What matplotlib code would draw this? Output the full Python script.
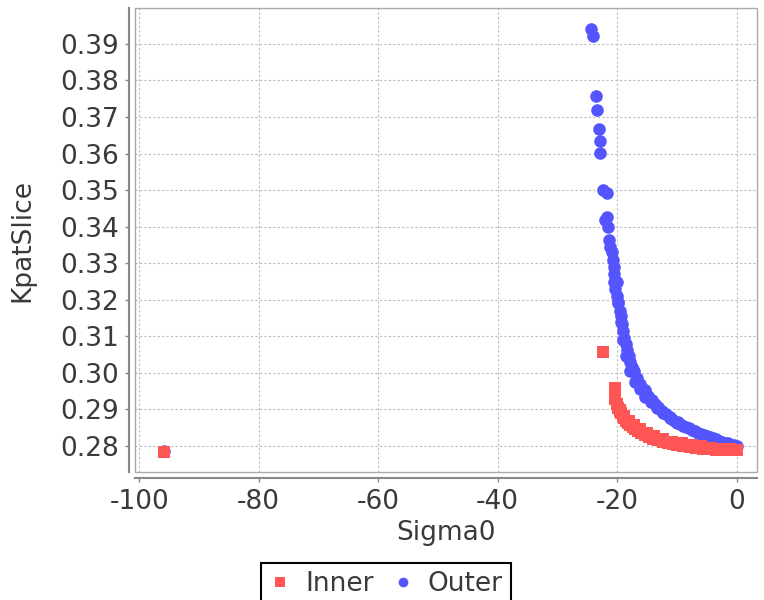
import matplotlib
matplotlib.use("Agg")
import matplotlib.pyplot as plt
from matplotlib.patches import Rectangle
from matplotlib.lines import Line2D

plt.rcParams['font.family'] = ['DejaVu Sans']

# ---- data ----
inner_x = [-95.9, -22.4, -20.4, -20.3, -20.3, -20.1, -19.8, -19.5, -19.3, -19.0,
           -18.8, -18.5, -18.2, -17.8, -17.4, -17.0, -16.5, -16.0, -15.3, -14.7,
           -14.0, -13.2, -12.3, -11.5, -10.6, -10.0, -9.5, -9.0, -8.4, -7.8,
           -7.3, -6.8, -6.2, -5.6, -5.1, -4.5, -4.0, -3.4, -2.9, -2.3,
           -1.7, -1.2, -0.6, 0.0,
           -19.5, -18.9, -18.1, -17.2, -16.2, -15.0, -13.8, -12.3, -10.8, -9.2,
           -7.6, -6.0, -4.4, -2.8, -1.2]
inner_y = [0.2785, 0.3056, 0.2958, 0.2945, 0.2930, 0.2915, 0.2904, 0.2896, 0.2889, 0.2882,
           0.2876, 0.2869, 0.2863, 0.2857, 0.2851, 0.2846, 0.2840, 0.2835, 0.2829, 0.2824,
           0.2820, 0.2816, 0.2812, 0.2808, 0.2805, 0.2803, 0.2802, 0.2800, 0.2799, 0.2798,
           0.2797, 0.2795, 0.2794, 0.2793, 0.2792, 0.2792, 0.2791, 0.2790, 0.2790, 0.2789,
           0.2789, 0.2789, 0.2789, 0.2788,
           0.2899, 0.2883, 0.2869, 0.2857, 0.2846, 0.2836, 0.2827, 0.2819, 0.2812, 0.2807,
           0.2803, 0.2799, 0.2796, 0.2793, 0.2791]

outer_x = [-95.9, -24.3, -24.0, -23.6, -23.3, -23.1, -22.8, -22.8, -22.3, -21.7,
           -22.1, -21.7, -21.5, -21.3, -21.2, -20.9, -20.7, -20.6, -20.5, -20.5,
           -20.3, -20.1, -19.9, -19.6, -19.4, -19.2, -19.0, -18.8, -18.6, -18.4,
           -18.1, -17.9, -17.6, -17.2, -16.7, -16.2, -15.8, -15.4, -14.8, -14.2,
           -13.6, -13.1, -12.5, -11.9, -11.2, -10.6, -10.0, -9.5, -9.0, -8.4,
           -7.9, -7.5, -7.0, -6.5, -6.0, -5.5, -5.0, -4.5, -4.0, -3.5,
           -3.0, -2.5, -2.0, -1.5, -1.0, -0.5, 0.0,
           -20.1, -19.8, -19.4, -19.0, -18.5, -17.9, -17.0, -16.2, -15.3, -14.4,
           -13.4, -12.3, -11.1, -9.9]
outer_y = [0.2787, 0.3940, 0.3922, 0.3758, 0.3719, 0.3666, 0.3635, 0.3601, 0.3500, 0.3493,
           0.3418, 0.3427, 0.3400, 0.3364, 0.3345, 0.3330, 0.3310, 0.3290, 0.3270, 0.3250,
           0.3230, 0.3210, 0.3190, 0.3170, 0.3155, 0.3135, 0.3115, 0.3095, 0.3080, 0.3062,
           0.3045, 0.3030, 0.3015, 0.3005, 0.2985, 0.2970, 0.2960, 0.2952, 0.2937, 0.2925,
           0.2915, 0.2907, 0.2896, 0.2887, 0.2879, 0.2871, 0.2864, 0.2859, 0.2855, 0.2851,
           0.2848, 0.2845, 0.2841, 0.2837, 0.2833, 0.2830, 0.2827, 0.2824, 0.2821, 0.2818,
           0.2815, 0.2812, 0.2809, 0.2807, 0.2804, 0.2802, 0.2800,
           0.3250, 0.3195, 0.3140, 0.3090, 0.3045, 0.3005, 0.2975, 0.2955, 0.2935, 0.2920,
           0.2905, 0.2890, 0.2877, 0.2866]

x_ticks = [-100, -80, -60, -40, -20, 0]
y_ticks = [0.28, 0.29, 0.30, 0.31, 0.32, 0.33, 0.34, 0.35, 0.36, 0.37, 0.38, 0.39]

RED = '#FF5555'
BLUE = '#5555FF'
TXT = '#3a3a3a'
FS = 19

fig = plt.figure(figsize=(7.64, 6.0), dpi=100)
ax = fig.add_axes([135/764, 1-472/600, 622/764, 464/600])

ax.scatter(outer_x, outer_y, s=82, marker='o', color=BLUE, linewidths=0, zorder=3)
ax.scatter(inner_x, inner_y, s=82, marker='s', color=RED, linewidths=0, zorder=4)

ax.set_xlim(-100.7, 3.4)
ax.set_ylim(0.2729, 0.3998)
ax.set_xticks(x_ticks)
ax.set_xticklabels([str(v) for v in x_ticks])
ax.set_yticks(y_ticks)
ax.set_yticklabels(['%.2f' % v for v in y_ticks])

ax.grid(True, color='#bbbbbb', linestyle=(0, (2, 2)), linewidth=0.8, zorder=1)
ax.set_axisbelow(True)

for s in ['top', 'right']:
    ax.spines[s].set_visible(False)
for s in ['left', 'bottom']:
    ax.spines[s].set_position(('outward', 4.5))
    ax.spines[s].set_color('#888888')
    ax.spines[s].set_linewidth(1.5)
ax.add_patch(Rectangle((0, 0), 1, 1, transform=ax.transAxes, fill=False,
                       edgecolor='#aaaaaa', linewidth=1.0, clip_on=False, zorder=5))

ax.tick_params(axis='both', direction='out', length=3, width=1, color='#888888',
               labelsize=FS, labelcolor=TXT)
ax.tick_params(axis='x', pad=5)
ax.tick_params(axis='y', pad=4)

ax.set_xlabel('Sigma0', fontsize=FS, color=TXT)
ax.set_ylabel('KpatSlice', fontsize=FS, color=TXT)
ax.xaxis.set_label_coords(0.5, -0.103)
ax.yaxis.set_label_coords(-0.16, 0.5)

handles = [Line2D([], [], linestyle='none', marker='s', color=RED, markersize=7.5, markeredgewidth=0),
           Line2D([], [], linestyle='none', marker='o', color=BLUE, markersize=7, markeredgewidth=0)]
leg = fig.legend(handles, ['Inner', 'Outer'], loc='upper center',
                 bbox_to_anchor=(386/764, 1-563/600), ncol=2, fontsize=FS,
                 frameon=True, fancybox=False, framealpha=1, edgecolor='black',
                 handlelength=0.8, handletextpad=0.55, columnspacing=0.7, borderpad=0.3,
                 borderaxespad=0)
for t in leg.get_texts():
    t.set_color(TXT)
leg.get_frame().set_linewidth(1.5)

fig.savefig('out.png', dpi=100)
